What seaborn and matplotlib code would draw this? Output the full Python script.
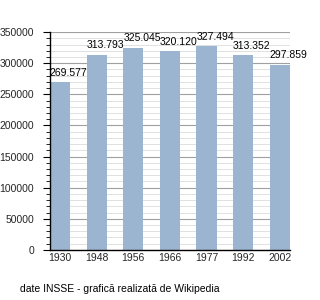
import matplotlib
matplotlib.use("Agg")
import matplotlib.pyplot as plt
import seaborn as sns
import pandas as pd
from matplotlib.ticker import MultipleLocator

years = ["1930", "1948", "1956", "1966", "1977", "1992", "2002"]
population = [269577, 313793, 325045, 320120, 327494, 313352, 297859]
labels = ["269.577", "313.793", "325.045", "320.120", "327.494", "313.352", "297.859"]

sns.set_theme(style="white")
plt.rcParams['font.family'] = ['Liberation Sans', 'DejaVu Sans']

df = pd.DataFrame({"year": years, "pop": population})

fig = plt.figure(figsize=(3.2, 3.0), dpi=100)
ax = fig.add_axes([0.156, 0.167, 0.75, 0.726])

bw = 0.55
sns.barplot(data=df, x="year", y="pop", color="#9bb4d0", saturation=1, width=bw,
            ax=ax, zorder=2, linewidth=0, edgecolor="none")

ax.set_ylim(0, 350000)
ax.set_xlim(-bw / 2, len(years) - 1 + bw / 2)
ax.yaxis.set_major_locator(MultipleLocator(50000))
ax.yaxis.set_minor_locator(MultipleLocator(10000))
ax.grid(which="major", axis="y", color="#a0a0a0", linewidth=0.8, zorder=0)
ax.grid(which="minor", axis="y", color="#dcdcdc", linewidth=0.6, zorder=0)
ax.set_axisbelow(True)

for s in ["top", "right"]:
    ax.spines[s].set_visible(False)
for s in ["left", "bottom"]:
    ax.spines[s].set_color("black")
    ax.spines[s].set_linewidth(1.0)
    ax.spines[s].set_zorder(5)

ax.tick_params(axis="y", which="major", left=True, length=5, width=0.8, color="black", labelsize=7.5, pad=6.5)
ax.tick_params(axis="y", which="minor", left=True, length=3, width=0.6, color="black")
ax.tick_params(axis="x", bottom=False, length=0, labelsize=7.5, pad=2)
ax.set_yticklabels([str(int(v)) for v in ax.get_yticks()])
ax.set_xlabel("")
ax.set_ylabel("")

for i, (v, lab) in enumerate(zip(population, labels)):
    ax.annotate(lab, xy=(i - bw / 2, v), xytext=(0, 3), textcoords="offset points",
                ha="left", va="bottom", fontsize=7.5, color="black")

fig.text(20 / 320, 1 - 289 / 300, "date INSSE - grafică realizată de Wikipedia",
         ha="left", va="center", fontsize=7.5, color="black")

fig.savefig("out.png", dpi=100)
